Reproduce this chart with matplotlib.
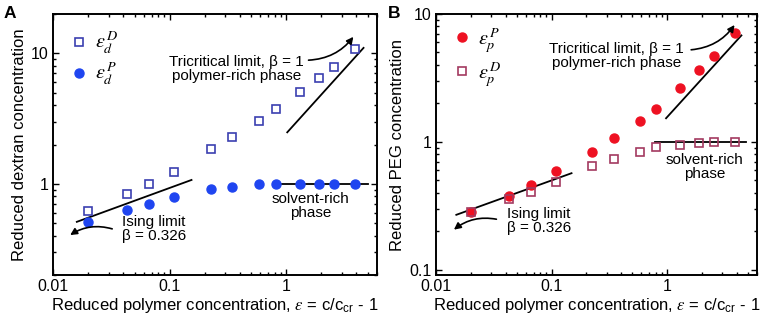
import matplotlib
matplotlib.use('Agg')
import matplotlib.pyplot as plt
from matplotlib.ticker import FixedLocator, FuncFormatter, LogLocator, NullFormatter

plt.rcParams['font.family'] = ['Liberation Sans', 'DejaVu Sans']
plt.rcParams['mathtext.fontset'] = 'stix'
plt.rcParams['axes.unicode_minus'] = False

# ─── data ───────────────────────────────────────────────────────────────────
eps = [0.02, 0.043, 0.066, 0.11, 0.225, 0.345, 0.58, 0.81, 1.3, 1.9, 2.55, 3.9]

# panel A: reduced dextran concentration
dex_D = [0.62, 0.84, 1.0, 1.24, 1.85, 2.3, 3.04, 3.74, 5.04, 6.5, 7.9, 10.7]
dex_P = [0.51, 0.625, 0.70, 0.79, 0.905, 0.95, 0.99, 1.0, 1.0, 1.0, 1.0, 1.0]

# panel B: reduced PEG concentration
peg_P = [0.282, 0.38, 0.461, 0.593, 0.84, 1.07, 1.46, 1.81, 2.63, 3.65, 4.72, 7.06]
peg_D = [0.282, 0.357, 0.409, 0.49, 0.653, 0.733, 0.84, 0.91, 0.947, 0.977, 0.995, 1.0]

# guide lines (x pair, y pair)
A_ising = ([0.016, 0.154], [0.511, 1.07])
A_tric = ([1.02, 4.6], [2.48, 11.0])
A_flat = ([0.82, 5.0], [1.0, 1.0])
B_ising = ([0.015, 0.149], [0.269, 0.569])
B_tric = ([0.98, 4.4], [1.53, 6.8])
B_flat = ([0.79, 4.8], [1.0, 1.0])

COL_SQ_A = '#3b3fb0'
COL_CI_A = '#1f45f0'
COL_CI_B = '#ee1122'
COL_SQ_B = '#a33a60'
FS_LAB = 12
FS_TICK = 11.5
FS_ANN = 11


def style_log(ax, ymajor):
    ax.set_xscale('log')
    ax.set_yscale('log')
    ax.set_xlim(0.01, 6)
    fmt = FuncFormatter(lambda v, p: f'{v:g}')
    ax.xaxis.set_major_locator(FixedLocator([0.01, 0.1, 1]))
    ax.xaxis.set_major_formatter(fmt)
    ax.yaxis.set_major_locator(FixedLocator(ymajor))
    ax.yaxis.set_major_formatter(fmt)
    for a in (ax.xaxis, ax.yaxis):
        a.set_minor_locator(LogLocator(base=10, subs=range(2, 10), numticks=20))
        a.set_minor_formatter(NullFormatter())
    ax.tick_params(which='both', direction='in', top=True, right=True,
                   labelsize=FS_TICK, width=1.0, pad=3)
    ax.tick_params(which='major', length=4)
    ax.tick_params(which='minor', length=2)
    for s in ax.spines.values():
        s.set_linewidth(1.4)
    ax.set_xlabel(r'Reduced polymer concentration, $\varepsilon$ = c/c$_{\mathregular{cr}}$ - 1',
                  fontsize=FS_LAB, labelpad=1)


def guides(ax, ising, tric, flat):
    for xs, ys in (ising, tric, flat):
        ax.plot(xs, ys, color='black', lw=1.3, zorder=1)


def arrow(ax, tip, start):
    ax.annotate('', xy=tip, xytext=start,
                arrowprops=dict(arrowstyle='-|>', color='black', lw=1.2,
                                connectionstyle='arc3,rad=0.25', mutation_scale=10))


fig = plt.figure(figsize=(7.65, 3.24), dpi=100)
axA = fig.add_axes([0.0693, 0.1512, 0.4235, 0.8056])
axB = fig.add_axes([0.5699, 0.1512, 0.4196, 0.8056])

# ─── Panel A ────────────────────────────────────────────────────────────────
style_log(axA, [1, 10])
axA.set_ylim(0.2, 20)
guides(axA, A_ising, A_tric, A_flat)
axA.plot(eps, dex_D, 's', ms=5.5, mfc='white', mec=COL_SQ_A, mew=1.2, ls='none',
         label=r'$\varepsilon_d^{\,D}$', zorder=3)
axA.plot(eps, dex_P, 'o', ms=6.5, color=COL_CI_A, ls='none',
         label=r'$\varepsilon_d^{\,P}$', zorder=3)
axA.set_ylabel('Reduced dextran concentration', fontsize=FS_LAB, labelpad=3)
axA.legend(loc='upper left', bbox_to_anchor=(0.03, 0.97), frameon=False, fontsize=14.5,
           handlelength=0.8, handletextpad=0.4, labelspacing=0.25, borderaxespad=0)

axA.text(0.374, 7.6, 'Tricritical limit, β = 1\npolymer-rich phase', ha='center',
         va='center', fontsize=FS_ANN, linespacing=1.0)
arrow(axA, (3.89, 13.9), (1.47, 8.84))
axA.text(0.0387, 0.45, 'Ising limit\nβ = 0.326', ha='left', va='center',
         fontsize=FS_ANN, linespacing=1.0)
arrow(axA, (0.0134, 0.394), (0.0339, 0.445))
axA.text(1.625, 0.673, 'solvent-rich\nphase', ha='center', va='center',
         fontsize=FS_ANN, linespacing=1.0)
fig.text(0.005, 0.98, 'A', fontsize=12.5, fontweight='bold', va='top')

# ─── Panel B ────────────────────────────────────────────────────────────────
style_log(axB, [0.1, 1, 10])
axB.set_ylim(0.091, 10)
guides(axB, B_ising, B_tric, B_flat)
axB.plot(eps, peg_P, 'o', ms=6.5, color=COL_CI_B, ls='none',
         label=r'$\varepsilon_p^{\,P}$', zorder=3)
axB.plot(eps, peg_D, 's', ms=5.5, mfc='none', mec=COL_SQ_B, mew=1.2, ls='none',
         label=r'$\varepsilon_p^{\,D}$', zorder=3)
axB.set_ylabel('Reduced PEG concentration', fontsize=FS_LAB, labelpad=3)
axB.legend(loc='upper left', bbox_to_anchor=(0.03, 0.985), frameon=False, fontsize=14.5,
           handlelength=0.8, handletextpad=0.4, labelspacing=0.25, borderaxespad=0)

axB.text(0.367, 4.66, 'Tricritical limit, β = 1\npolymer-rich phase', ha='center',
         va='center', fontsize=FS_ANN, linespacing=1.0)
arrow(axB, (3.96, 8.55), (1.53, 5.23))
axB.text(0.0413, 0.239, 'Ising limit\nβ = 0.326', ha='left', va='center',
         fontsize=FS_ANN, linespacing=1.0)
arrow(axB, (0.0137, 0.1995), (0.0352, 0.246))
axB.text(2.1, 0.638, 'solvent-rich\nphase', ha='center', va='center',
         fontsize=FS_ANN, linespacing=1.0)
fig.text(0.507, 0.98, 'B', fontsize=12.5, fontweight='bold', va='top')

fig.savefig('out.png', dpi=100)
